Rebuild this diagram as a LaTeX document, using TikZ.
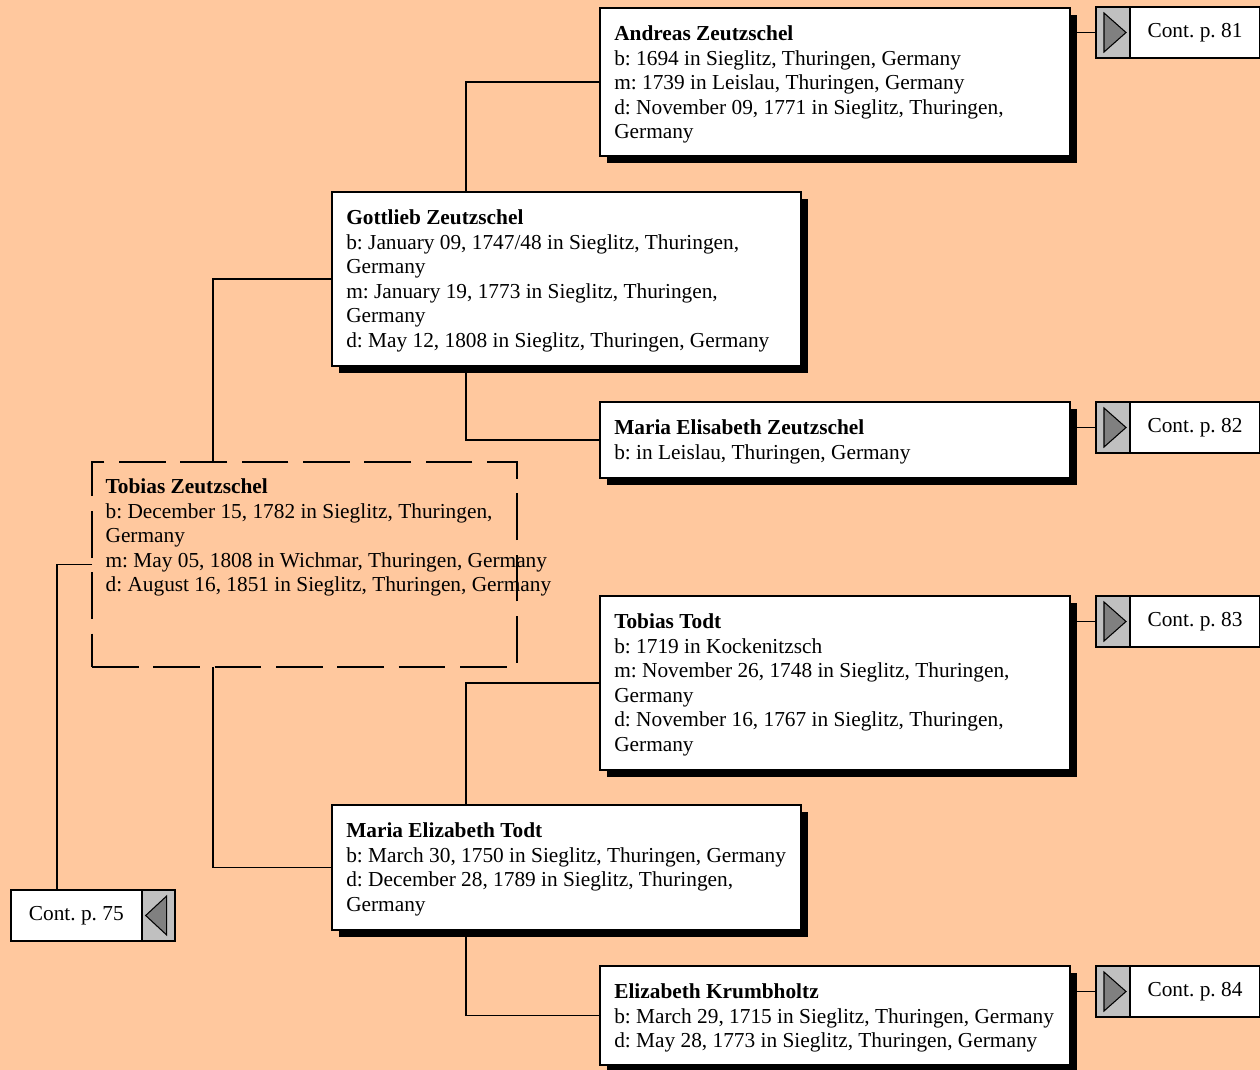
\documentclass[tikz,border=0pt]{standalone}
\usepackage{fontspec}
\setmainfont{Liberation Serif}
\usetikzlibrary{positioning,calc,shadows}
\frenchspacing

\definecolor{pageBg}{RGB}{255,200,158}
\definecolor{contGray}{RGB}{192,192,192}
\definecolor{triGray}{RGB}{128,128,128}

\tikzset{every picture/.style={line width=1.4pt},
  person/.style={draw, fill=white, anchor=north west, inner sep=0pt, outer sep=0pt,
    drop shadow={fill=black, opacity=1, shadow xshift=5.5pt, shadow yshift=-5.5pt}},
  focus/.style={draw, dash pattern=on 35pt off 11pt, line width=0.9pt, anchor=north west, inner sep=0pt, outer sep=0pt},
  info/.style={anchor=north west, align=left, inner xsep=10pt, inner ysep=12.8pt, font=\fontsize{16}{18.4}\selectfont},
  contbox/.style={draw, fill=white, minimum width=97.5pt, minimum height=38.25pt, inner sep=0pt, outer sep=0pt, font=\fontsize{16}{18.4}\selectfont},
  arrowcell/.style={draw, fill=contGray, minimum width=25.5pt, minimum height=38.25pt, inner sep=0pt, outer sep=0pt},
  tri/.style={draw, fill=triGray, line width=0.8pt}
}

\begin{document}
\begin{tikzpicture}[x=0.75pt,y=0.75pt,yscale=-1,xscale=1]
    %Background
    \fill[pageBg] (0,0) rectangle (1260,1070);
    \useasboundingbox (0,0) rectangle (1260,1070);

    %Shape: Rectangle [andreas]
    \node[person, minimum width=352.5pt, minimum height=111pt] (andreas) at (600,8) {};
    %Shape: Rectangle [gottlieb]
    \node[person, minimum width=351.75pt, minimum height=130.5pt] (gottlieb) at (332,192) {};
    %Shape: Rectangle [mariaE]
    \node[person, minimum width=352.5pt, minimum height=57pt] (mariaE) at (600,402) {};
    %Shape: Rectangle [tobias]
    \node[focus, minimum width=318.75pt, minimum height=153.75pt] (tobias) at (92,462) {};
    %Shape: Rectangle [todt]
    \node[person, minimum width=352.5pt, minimum height=130.5pt] (todt) at (600,596) {};
    %Shape: Rectangle [mariaT]
    \node[person, minimum width=351.75pt, minimum height=93.75pt] (mariaT) at (332,805) {};
    %Shape: Rectangle [krumb]
    \node[person, minimum width=352.5pt, minimum height=74.25pt] (krumb) at (600,966) {};

    % Text Node
    \node[info] (andreasTxt) at (andreas.north west) {\textbf{Andreas Zeutzschel}\\b: 1694 in Sieglitz, Thuringen, Germany\\m: 1739 in Leislau, Thuringen, Germany\\d: November 09, 1771 in Sieglitz, Thuringen,\\Germany};
    % Text Node
    \node[info] (gottliebTxt) at (gottlieb.north west) {\textbf{Gottlieb Zeutzschel}\\b: January 09, 1747/48 in Sieglitz, Thuringen,\\Germany\\m: January 19, 1773 in Sieglitz, Thuringen,\\Germany\\d: May 12, 1808 in Sieglitz, Thuringen, Germany};
    % Text Node
    \node[info] (mariaETxt) at (mariaE.north west) {\textbf{Maria Elisabeth Zeutzschel}\\b: in Leislau, Thuringen, Germany};
    % Text Node
    \node[info, inner xsep=9.5pt, inner ysep=12pt] (tobiasTxt) at (tobias.north west) {\textbf{Tobias Zeutzschel}\\b: December 15, 1782 in Sieglitz, Thuringen,\\Germany\\m: May 05, 1808 in Wichmar, Thuringen, Germany\\d: August 16, 1851 in Sieglitz, Thuringen, Germany};
    % Text Node
    \node[info] (todtTxt) at (todt.north west) {\textbf{Tobias Todt}\\b: 1719 in Kockenitzsch\\m: November 26, 1748 in Sieglitz, Thuringen,\\Germany\\d: November 16, 1767 in Sieglitz, Thuringen,\\Germany};
    % Text Node
    \node[info] (mariaTTxt) at (mariaT.north west) {\textbf{Maria Elizabeth Todt}\\b: March 30, 1750 in Sieglitz, Thuringen, Germany\\d: December 28, 1789 in Sieglitz, Thuringen,\\Germany};
    % Text Node
    \node[info] (krumbTxt) at (krumb.north west) {\textbf{Elizabeth Krumbholtz}\\b: March 29, 1715 in Sieglitz, Thuringen, Germany\\d: May 28, 1773 in Sieglitz, Thuringen, Germany};

    %Continuation boxes
    \node[arrowcell, anchor=north west] (arr81) at (1096,7) {};
    \node[contbox, right=0pt of arr81] (cont81) {Cont. p. 81};
    \node[arrowcell, anchor=north west] (arr82) at (1096,402) {};
    \node[contbox, right=0pt of arr82] (cont82) {Cont. p. 82};
    \node[arrowcell, anchor=north west] (arr83) at (1096,596) {};
    \node[contbox, right=0pt of arr83] (cont83) {Cont. p. 83};
    \node[arrowcell, anchor=north west] (arr84) at (1096,966) {};
    \node[contbox, right=0pt of arr84] (cont84) {Cont. p. 84};
    \node[contbox, anchor=north west, minimum width=98pt] (cont75) at (11,890) {Cont. p. 75};
    \node[arrowcell, right=0pt of cont75, minimum width=24.75pt] (arr75) {};

    \foreach \c in {81,82,83,84} {
      \draw[tri] ($(arr\c.north west)+(8,6)$) -- ($(arr\c.south west)+(8,-6)$) -- ($(arr\c.east)+(-4,0)$) -- cycle;
    }
    \draw[tri] ($(arr75.north east)+(-8,6)$) -- ($(arr75.south east)+(-8,-6)$) -- ($(arr75.west)+(4,0)$) -- cycle;

    %Connectors
    \draw (andreas.west) -| ($(gottlieb.north west)+(134,0)$);
    \draw (mariaE.west) -| ($(gottlieb.south west)+(134,0)$);
    \draw (todt.west) -| ($(mariaT.north west)+(134,0)$);
    \draw (krumb.west) -| ($(mariaT.south west)+(134,0)$);
    \draw (gottlieb.west) -| ($(tobias.north west)+(121,0)$);
    \draw (mariaT.west) -| ($(tobias.south west)+(121,0)$);
    \draw (tobias.west) -| ($(cont75.north west)+(46,0)$);
    \draw (arr81.west) -- (arr81.west -| andreas.east);
    \draw (arr82.west) -- (arr82.west -| mariaE.east);
    \draw (arr83.west) -- (arr83.west -| todt.east);
    \draw (arr84.west) -- (arr84.west -| krumb.east);

\end{tikzpicture}
\end{document}
